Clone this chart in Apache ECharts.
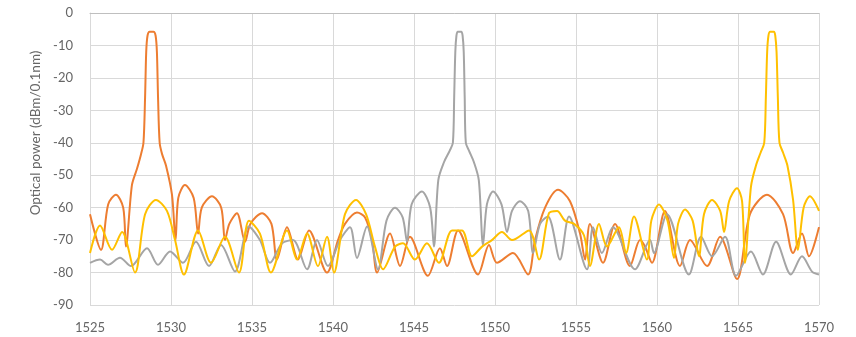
<!DOCTYPE html>
<html>
<head>
<meta charset="utf-8">
<script src="https://cdn.jsdelivr.net/npm/echarts@6/dist/echarts.min.js"></script>
<style>html,body{margin:0;padding:0;background:#fff}#c{width:856px;height:337px}</style>
</head>
<body>
<div id="c"></div>
<script>
// X tick labels (nm) and Y tick labels (dBm/0.1nm)
var xTicks = [1525, 1530, 1535, 1540, 1545, 1550, 1555, 1560, 1565, 1570];
var yTicks = [0, -10, -20, -30, -40, -50, -60, -70, -80, -90];

// Orange channel (peak near 1528.8 nm)
var orangeX = [1525.00,1525.68,1526.12,1526.60,1527.05,1527.22,1527.59,1527.90,1528.15,1528.30,1528.40,1528.47,1528.55,1528.68,1528.92,1529.05,1529.13,1529.20,1529.30,1529.45,1529.69,1530.06,1530.28,1530.45,1530.86,1531.40,1531.67,1531.90,1532.53,1533.10,1533.33,1533.60,1534.07,1534.57,1534.90,1535.62,1536.20,1536.54,1537.16,1537.84,1538.52,1539.63,1540.31,1540.74,1541.48,1541.98,1542.41,1542.72,1543.52,1544.14,1544.75,1545.86,1546.60,1547.04,1547.72,1548.95,1549.63,1550.12,1551.11,1552.04,1552.47,1553.09,1553.89,1554.63,1555.25,1555.56,1555.86,1556.67,1557.41,1558.33,1558.95,1559.26,1559.69,1560.49,1561.42,1562.04,1563.09,1563.89,1564.94,1565.74,1566.79,1567.78,1568.40,1568.95,1569.38,1570.00];
var orangeY = [-62,-73,-59,-56,-60,-72,-53,-48,-43.5,-40,-26,-12,-7,-5.8,-5.8,-7,-12,-26,-40,-43.5,-47,-56,-70,-57,-53,-57,-68,-60,-56.5,-60,-70,-65,-61.7,-70.5,-65,-61.7,-65,-76,-66,-76,-67,-80,-70,-65,-61.5,-63,-70,-80,-68,-78,-69,-81,-72.5,-78,-67,-80.6,-71.5,-77,-74,-80.6,-70,-60,-54.5,-58,-68,-76,-65,-77,-65,-78,-70,-72,-77,-61,-78,-70,-78,-69,-82,-62,-56,-62,-74,-68,-75,-66];

// Grey channel (peak near 1547.8 nm)
var greyX = [1525.00,1525.62,1526.11,1526.85,1527.53,1528.52,1529.20,1529.94,1530.74,1531.54,1532.35,1533.09,1533.95,1534.81,1535.49,1536.11,1536.85,1537.53,1538.40,1539.01,1539.69,1540.43,1541.05,1541.48,1542.10,1542.78,1543.30,1543.83,1544.30,1544.57,1544.85,1545.49,1546.00,1546.23,1546.50,1546.85,1547.20,1547.40,1547.48,1547.55,1547.62,1547.70,1547.92,1548.00,1548.07,1548.13,1548.20,1548.40,1548.70,1549.00,1549.26,1549.50,1549.88,1550.40,1550.74,1551.05,1551.54,1552.05,1552.35,1552.78,1553.27,1554.01,1554.57,1555.68,1556.05,1556.60,1557.28,1558.64,1559.57,1559.81,1560.62,1561.97,1562.72,1563.40,1564.20,1564.88,1565.80,1566.54,1567.35,1568.27,1568.95,1569.57,1570.00];
var greyY = [-77,-76,-77.6,-75.4,-78,-72.5,-77.6,-73.5,-77,-70.5,-78,-71.5,-79.7,-65.8,-70,-77,-71,-70,-79,-70,-78,-70,-66,-75.5,-65.8,-79,-64,-60,-63,-70.5,-59,-55,-60,-72,-51.5,-46,-42.5,-40,-26,-12,-7,-5.8,-5.8,-7,-12,-26,-40,-42.5,-46,-51.5,-71.5,-59,-55,-59,-67.5,-61,-58,-61,-74,-65,-62.7,-76,-62.7,-79,-66,-74,-66,-79,-70,-74,-62,-80.6,-69,-75,-69,-81,-73.5,-80.6,-70.5,-80.6,-75,-79.7,-80.6];

// Yellow channel (peak near 1567.1 nm)
var yellowX = [1525.00,1525.62,1526.36,1526.98,1527.78,1528.40,1529.07,1529.75,1530.25,1530.80,1531.67,1532.47,1533.33,1534.20,1534.81,1535.49,1536.17,1537.16,1537.78,1538.40,1539.07,1539.63,1540.06,1540.74,1541.42,1542.04,1542.59,1543.09,1543.83,1544.32,1545.06,1545.80,1546.54,1547.35,1547.96,1548.58,1549.20,1549.81,1550.43,1551.05,1552.10,1552.72,1553.33,1553.83,1554.32,1554.88,1555.49,1555.86,1556.42,1556.91,1557.65,1558.09,1558.58,1559.38,1559.65,1560.12,1560.65,1561.05,1561.30,1561.73,1562.20,1562.59,1562.90,1563.40,1563.90,1564.14,1564.45,1564.94,1565.25,1565.43,1565.80,1566.11,1566.40,1566.62,1566.72,1566.80,1566.88,1566.98,1567.22,1567.30,1567.38,1567.46,1567.56,1567.78,1568.05,1568.40,1568.70,1569.05,1569.44,1570.00];
var yellowY = [-74,-65.5,-73,-67.5,-80,-62,-57.6,-61,-70,-80.6,-67,-77,-69,-80,-64,-68,-80,-67,-76,-68,-78,-69,-80,-62,-57.6,-62,-72,-79,-72,-71,-76,-71,-77,-67,-67,-75,-72,-70,-67.5,-70,-67,-76,-61.7,-61,-64,-65,-68.5,-78,-65,-72,-66,-74,-62.7,-76,-64,-59,-64,-75.5,-65,-60.6,-64,-75,-62,-57.6,-61,-67.5,-58,-54,-58,-77,-53.5,-47,-43,-40,-26,-12,-7,-5.8,-5.8,-7,-12,-26,-40,-43,-47,-57.6,-73,-60,-56.5,-61];

function pairs(xs, ys) { return xs.map(function (x, i) { return [x, ys[i]]; }); }

var chart = echarts.init(document.getElementById('c'), null, { renderer: 'canvas' });
var lbl = { color: '#666666', fontSize: 13, fontFamily: 'Lato, "Liberation Sans", sans-serif' };
function mk(name, color, xs, ys) {
  return {
    name: name, type: 'line', data: pairs(xs, ys), showSymbol: false, smooth: 0.3,
    lineStyle: { color: color, width: 2 }, itemStyle: { color: color }, animation: false
  };
}
chart.setOption({
  animation: false,
  grid: { left: 90, right: 37, top: 13, bottom: 32, containLabel: false },
  xAxis: {
    type: 'value', min: xTicks[0], max: xTicks[xTicks.length - 1], interval: 5,
    axisLine: { show: true, lineStyle: { color: '#BFBFBF' } },
    axisTick: { show: false },
    splitLine: { show: true, lineStyle: { color: '#D9D9D9' } },
    axisLabel: Object.assign({ margin: 16, formatter: function (v) { return String(v); } }, lbl)
  },
  yAxis: {
    type: 'value', min: yTicks[yTicks.length - 1], max: yTicks[0], interval: 10,
    name: 'Optical power (dBm/0.1nm)', nameLocation: 'middle', nameGap: 45,
    nameTextStyle: Object.assign({ padding: [0, 0, 0, 52] }, lbl, { fontSize: 13.5 }),
    axisLine: { show: true, lineStyle: { color: '#D9D9D9' } },
    axisTick: { show: false },
    splitLine: { show: true, lineStyle: { color: '#D9D9D9' } },
    axisLabel: Object.assign({ margin: 17 }, lbl)
  },
  series: [
    mk('Ch A', '#ED7D31', orangeX, orangeY),
    mk('Ch B', '#A5A5A5', greyX, greyY),
    mk('Ch C', '#FFC000', yellowX, yellowY)
  ]
});
</script>
</body>
</html>
